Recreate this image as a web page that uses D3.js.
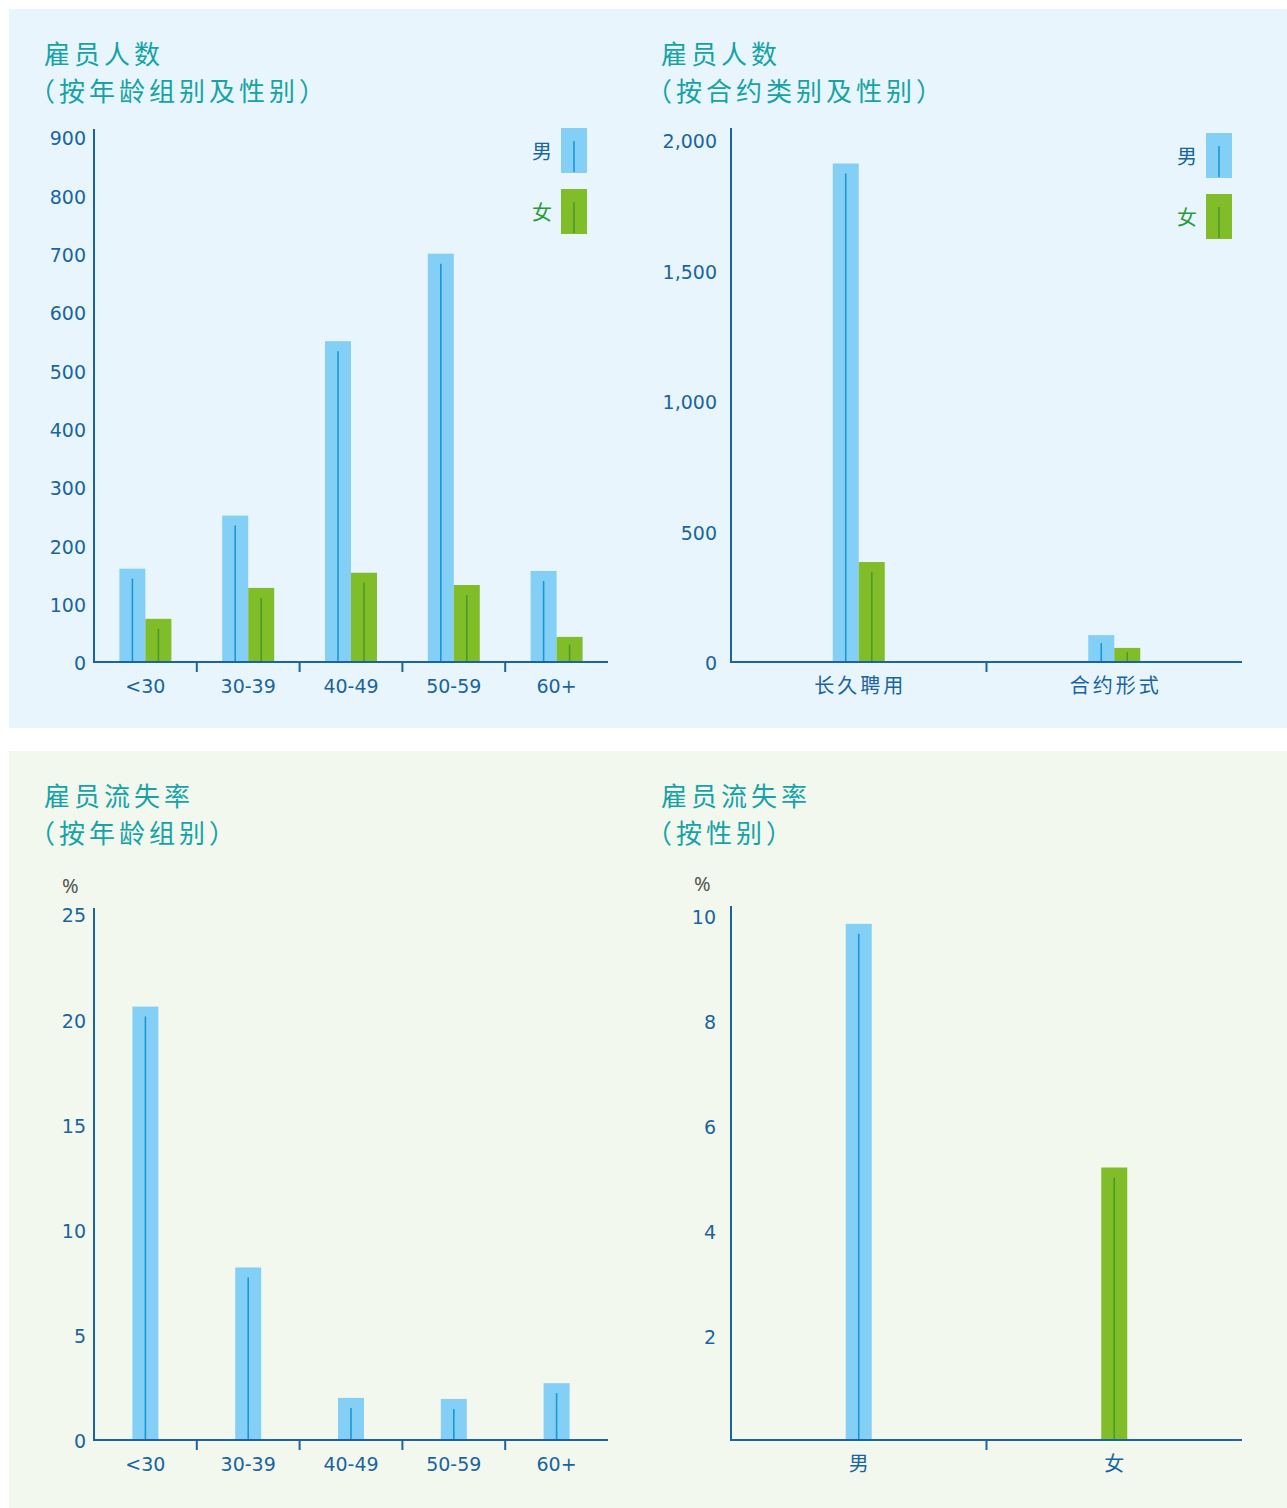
<!DOCTYPE html>
<html>
<head>
<meta charset="utf-8">
<script src="https://cdn.jsdelivr.net/npm/d3@7"></script>
<style>
  html, body { margin: 0; padding: 0; background: #ffffff; }
  svg { display: block; }
</style>
</head>
<body>
<svg id="chart" width="1287" height="1508"></svg>
<script>
// ---------- DATA ----------
const ageGroups = ["<30", "30-39", "40-49", "50-59", "60+"];
const headcountAgeMale = [160, 251, 550, 700, 156];
const headcountAgeFemale = [74, 127, 153, 132, 43];
const headcountAgeTicks = [0, 100, 200, 300, 400, 500, 600, 700, 800, 900];

const contractTypes = ["长久聘用", "合约形式"];
const headcountContractMale = [1910, 103];
const headcountContractFemale = [383, 54];
const headcountContractTicks = [0, 500, 1000, 1500, 2000];

const turnoverAge = [20.6, 8.2, 2.0, 1.95, 2.7];
const turnoverAgeTicks = [0, 5, 10, 15, 20, 25];

const genders = ["男", "女"];
const turnoverGender = [9.85, 5.2];
const turnoverGenderTicks = [2, 4, 6, 8, 10];

const legendLabels = ["男", "女"];

// ---------- STYLE ----------
const C = {
  panelTop: "#e8f5fd",
  panelBottom: "#f2f8ee",
  title: "#17a3a6",
  axis: "#1a64a0",
  tickText: "#1a64a0",
  male: "#84cff5",
  maleLine: "#1a98d6",
  female: "#80bd28",
  femaleLine: "#4a9a2c",
  femaleText: "#2a9a3a",
  pct: "#555555"
};
const NUM_FONT = "'DejaVu Sans', 'Noto Sans', sans-serif";
const CJK_FONT = "'Noto Sans CJK SC', 'Noto Sans', sans-serif";
const fmt = d3.format(",");
const isCJK = s => /[\u4e00-\u9fff]/.test(s);

const svg = d3.select("#chart");

// panels
svg.append("rect").attr("x", 9).attr("y", 9).attr("width", 1278).attr("height", 719).attr("fill", C.panelTop);
svg.append("rect").attr("x", 9).attr("y", 751).attr("width", 1278).attr("height", 757).attr("fill", C.panelBottom);

function title(x, y1, lines) {
  lines.forEach((t, i) => {
    svg.append("text")
      .attr("x", x + (i === 1 ? -15 : 0)).attr("y", y1 + i * 37)
      .attr("font-family", CJK_FONT).attr("font-size", 26)
      .attr("letter-spacing", "4px")
      .attr("fill", C.title).text(t);
  });
}

function chart(o) {
  const g = svg.append("g");
  const x = d3.scaleBand().domain(o.cats).range([o.x0, o.x1]).paddingInner(0).paddingOuter(0);
  const y = d3.scaleLinear().domain([0, o.max]).range([o.y0, o.yMax]);

  // y tick labels via d3 axis
  const ax = g.append("g").attr("transform", `translate(${o.x0},0)`)
    .call(d3.axisLeft(y).tickValues(o.ticks).tickSize(0).tickPadding(o.pad).tickFormat(fmt));
  ax.select(".domain").remove();
  ax.selectAll("text").attr("font-family", NUM_FONT).attr("font-size", 19)
    .attr("fill", C.tickText).attr("dy", "0.42em");

  // bars
  const bw = 26;
  o.series.forEach((s, si) => {
    const offset = o.series.length === 1 ? -bw / 2 : (si === 0 ? -bw : 0);
    const data = o.cats.map((c, i) => ({ c, v: s.values[i], female: s.female ? true : (s.perCatFemale ? s.perCatFemale[i] : false) }));
    g.selectAll(null).data(data).enter().append("rect")
      .attr("x", d => x(d.c) + x.bandwidth() / 2 + offset)
      .attr("y", d => y(d.v))
      .attr("width", bw)
      .attr("height", d => o.y0 - y(d.v))
      .attr("fill", d => d.female ? C.female : C.male);
    g.selectAll(null).data(data).enter().append("line")
      .attr("x1", d => x(d.c) + x.bandwidth() / 2 + offset + bw / 2)
      .attr("x2", d => x(d.c) + x.bandwidth() / 2 + offset + bw / 2)
      .attr("y1", d => y(d.v) + Math.min(10, (o.y0 - y(d.v)) * 0.3))
      .attr("y2", o.y0)
      .attr("stroke", d => d.female ? C.femaleLine : C.maleLine)
      .attr("stroke-width", 1.6);
  });

  // axis lines
  g.append("line").attr("x1", o.x0).attr("x2", o.x0).attr("y1", o.axisTop).attr("y2", o.y0 + 1)
    .attr("stroke", C.axis).attr("stroke-width", 2);
  g.append("line").attr("x1", o.x0 - 1).attr("x2", o.x1).attr("y1", o.y0).attr("y2", o.y0)
    .attr("stroke", C.axis).attr("stroke-width", 2);
  // category boundary ticks
  o.cats.slice(1).forEach(c => {
    g.append("line").attr("x1", x(c)).attr("x2", x(c)).attr("y1", o.y0).attr("y2", o.y0 + 10)
      .attr("stroke", C.axis).attr("stroke-width", 2);
  });
  // category labels
  g.selectAll(null).data(o.cats).enter().append("text")
    .attr("x", d => x(d) + x.bandwidth() / 2 + (isCJK(d) ? 1.5 : 0))
    .attr("y", o.y0 + 31)
    .attr("text-anchor", "middle")
    .attr("font-family", d => isCJK(d) ? CJK_FONT : NUM_FONT)
    .attr("font-size", d => isCJK(d) ? 20 : 19)
    .attr("letter-spacing", d => isCJK(d) ? "3px" : "0px")
    .attr("fill", C.tickText)
    .text(d => d);

  if (o.pct) {
    g.append("text").attr("x", o.pctX).attr("y", o.axisTop - 15)
      .attr("font-family", "'Noto Sans', sans-serif").attr("font-size", 20).attr("fill", C.pct).text("%");
  }

  if (o.legend) {
    const L = o.legend;
    legendLabels.forEach((lab, i) => {
      const yy = L.y + i * 61;
      g.append("rect").attr("x", L.x).attr("y", yy).attr("width", 26).attr("height", 45)
        .attr("fill", i === 0 ? C.male : C.female);
      g.append("line").attr("x1", L.x + 13).attr("x2", L.x + 13).attr("y1", yy + 13).attr("y2", yy + 44)
        .attr("stroke", i === 0 ? C.maleLine : C.femaleLine).attr("stroke-width", 1.6);
      g.append("text").attr("x", L.x - 9).attr("y", yy + 24).attr("dy", "0.36em")
        .attr("text-anchor", "end")
        .attr("font-family", CJK_FONT).attr("font-size", 20)
        .attr("fill", i === 0 ? C.tickText : C.femaleText).text(lab);
    });
  }
}

// Top-left
title(44, 64, ["雇员人数", "（按年龄组别及性别）"]);
chart({
  cats: ageGroups, x0: 94, x1: 608, y0: 662, yMax: 137, max: 900, axisTop: 129, pad: 8,
  ticks: headcountAgeTicks,
  series: [{ values: headcountAgeMale }, { values: headcountAgeFemale, female: true }],
  legend: { x: 561, y: 128 }
});

// Top-right
title(661, 64, ["雇员人数", "（按合约类别及性别）"]);
chart({
  cats: contractTypes, x0: 731, x1: 1242, y0: 662, yMax: 140, max: 2000, axisTop: 128, pad: 14,
  ticks: headcountContractTicks,
  series: [{ values: headcountContractMale }, { values: headcountContractFemale, female: true }],
  legend: { x: 1206, y: 133 }
});

// Bottom-left
title(44, 806, ["雇员流失率", "（按年龄组别）"]);
chart({
  cats: ageGroups, x0: 94, x1: 608, y0: 1440, yMax: 914, max: 25, axisTop: 908, pad: 8,
  ticks: turnoverAgeTicks, pct: true, pctX: 62,
  series: [{ values: turnoverAge }]
});

// Bottom-right
title(661, 806, ["雇员流失率", "（按性别）"]);
chart({
  cats: genders, x0: 731, x1: 1242, y0: 1440, yMax: 916, max: 10, axisTop: 906, pad: 15,
  ticks: turnoverGenderTicks, pct: true, pctX: 694,
  series: [{ values: turnoverGender, perCatFemale: [false, true] }]
});
</script>
</body>
</html>
